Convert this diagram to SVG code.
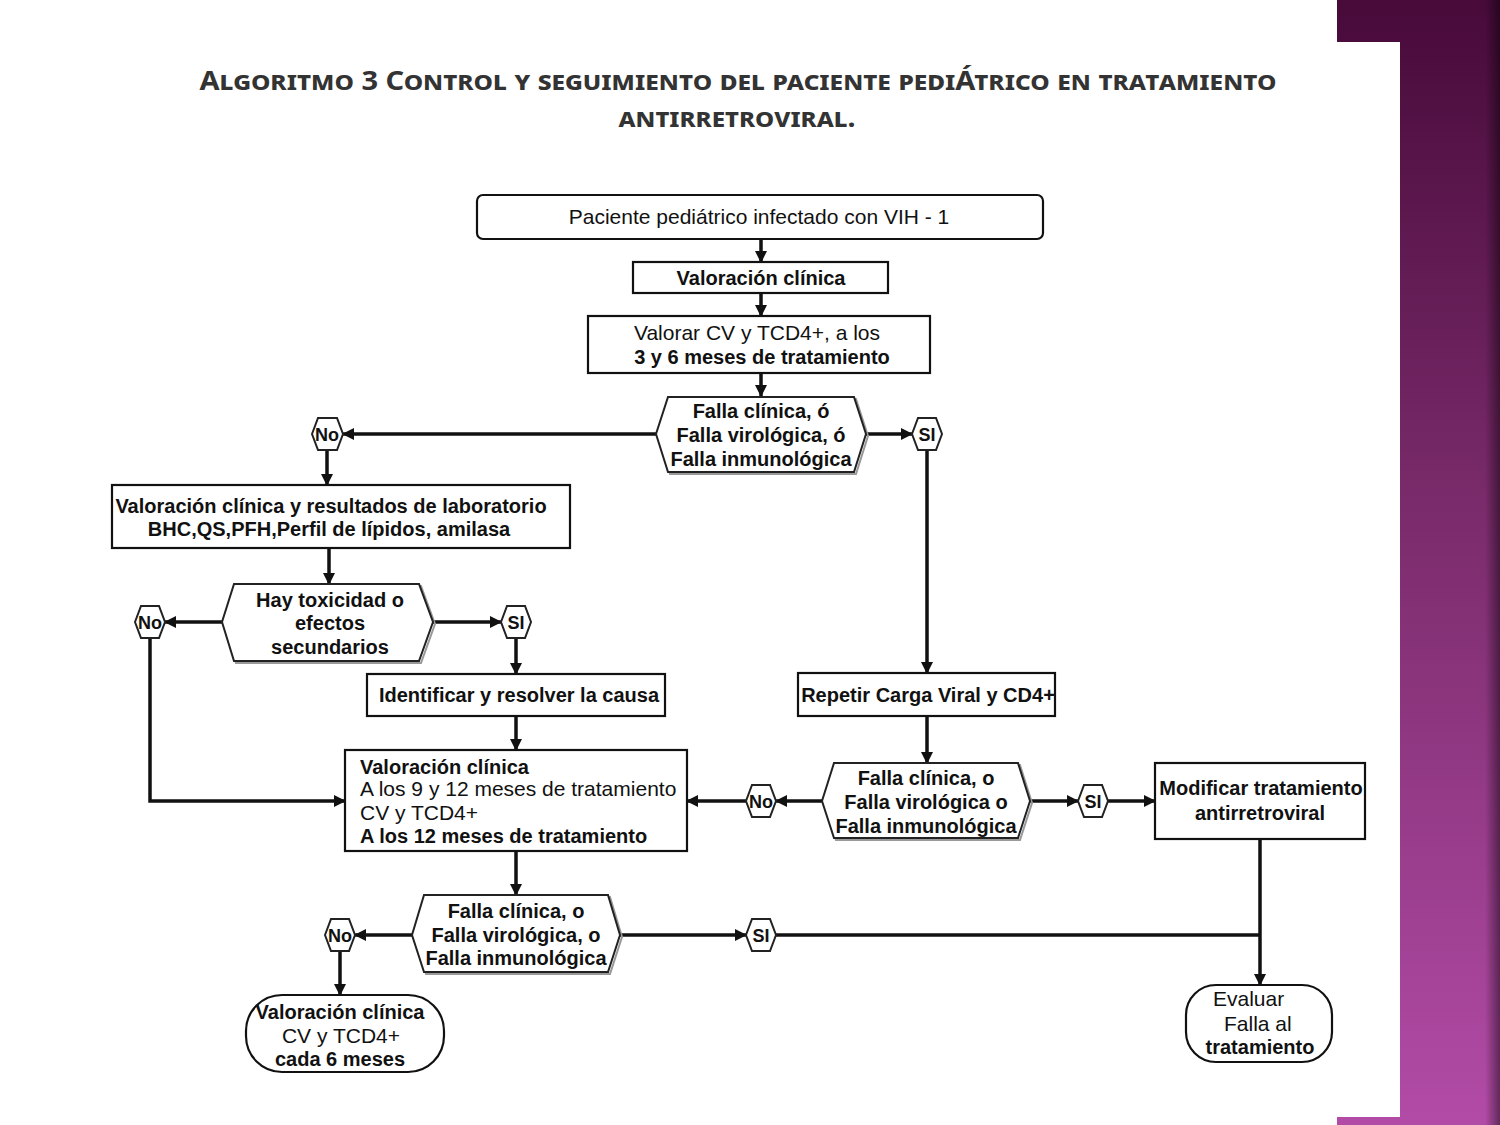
<svg xmlns="http://www.w3.org/2000/svg" width="1500" height="1125" viewBox="0 0 1500 1125">
<defs>
<linearGradient id="pg" x1="0" y1="0" x2="0" y2="1">
<stop offset="0" stop-color="#470a39"/>
<stop offset="0.45" stop-color="#7a2b6b"/>
<stop offset="1" stop-color="#b24ba6"/>
</linearGradient>
<linearGradient id="edge" x1="0" y1="0" x2="1" y2="0">
<stop offset="0" stop-color="#000" stop-opacity="0"/>
<stop offset="1" stop-color="#000" stop-opacity="0.45"/>
</linearGradient>
<marker id="ah" markerWidth="12" markerHeight="12" refX="11" refY="6" orient="auto" markerUnits="userSpaceOnUse">
<path d="M0,0 L12,6 L0,12 z" fill="#111"/>
</marker>
</defs>
<style>
.box{fill:#fff;stroke:#111;stroke-width:2.2}
.hex{fill:#fff;stroke:#222;stroke-width:2}
.sh{fill:none;stroke:#999;stroke-width:2}
.t{font-family:"Liberation Sans",Arial,sans-serif;font-size:21px;fill:#111}
.b{font-weight:bold;font-size:20px}
.m{text-anchor:middle}
.c{fill:none;stroke:#111;stroke-width:3.5}
.title{font-family:"Noto Sans","Liberation Sans",sans-serif;font-weight:bold;font-variant:small-caps;fill:#333;font-size:26px;text-anchor:middle}
</style>
<rect width="1500" height="1125" fill="#fff"/>
<g id="panel">
<rect x="1337" y="0" width="163" height="1125" fill="url(#pg)"/>
<rect x="1485" y="0" width="15" height="1125" fill="url(#edge)"/>
<rect x="1337" y="42" width="63" height="1075" fill="#fff"/>
</g>
<g id="title">
<text class="title" x="738" y="90" textLength="1077" lengthAdjust="spacingAndGlyphs">Algoritmo 3 Control y seguimiento del paciente pediÁtrico en tratamiento</text>
<text class="title" x="737" y="127" textLength="237" lengthAdjust="spacingAndGlyphs">antirretroviral.</text>
</g>
<g id="connectors">
<line class="c" x1="761" y1="239" x2="761" y2="262" marker-end="url(#ah)"/>
<line class="c" x1="761" y1="293" x2="761" y2="316" marker-end="url(#ah)"/>
<line class="c" x1="761" y1="373" x2="761" y2="396" marker-end="url(#ah)"/>
<line class="c" x1="656" y1="434" x2="343" y2="434" marker-end="url(#ah)"/>
<line class="c" x1="866" y1="434" x2="912" y2="434" marker-end="url(#ah)"/>
<line class="c" x1="327" y1="450" x2="327" y2="485" marker-end="url(#ah)"/>
<line class="c" x1="927" y1="450" x2="927" y2="673" marker-end="url(#ah)"/>
<line class="c" x1="329" y1="548" x2="329" y2="584" marker-end="url(#ah)"/>
<line class="c" x1="222" y1="622" x2="165" y2="622" marker-end="url(#ah)"/>
<line class="c" x1="433" y1="622" x2="501" y2="622" marker-end="url(#ah)"/>
<line class="c" x1="516" y1="638" x2="516" y2="674" marker-end="url(#ah)"/>
<polyline class="c" points="150,638 150,801 345,801" marker-end="url(#ah)"/>
<line class="c" x1="516" y1="716" x2="516" y2="750" marker-end="url(#ah)"/>
<line class="c" x1="927" y1="716" x2="927" y2="763" marker-end="url(#ah)"/>
<line class="c" x1="822" y1="801" x2="776" y2="801" marker-end="url(#ah)"/>
<line class="c" x1="746" y1="801" x2="687" y2="801" marker-end="url(#ah)"/>
<line class="c" x1="1030" y1="801" x2="1078" y2="801" marker-end="url(#ah)"/>
<line class="c" x1="1108" y1="801" x2="1155" y2="801" marker-end="url(#ah)"/>
<line class="c" x1="516" y1="851" x2="516" y2="895" marker-end="url(#ah)"/>
<line class="c" x1="412" y1="935" x2="355" y2="935" marker-end="url(#ah)"/>
<line class="c" x1="340" y1="951" x2="340" y2="995" marker-end="url(#ah)"/>
<line class="c" x1="620" y1="935" x2="746" y2="935" marker-end="url(#ah)"/>
<line class="c" x1="776" y1="935" x2="1260" y2="935"/>
<line class="c" x1="1260" y1="839" x2="1260" y2="985" marker-end="url(#ah)"/>
</g>
<g id="n1">
<rect class="box" x="477" y="195" width="566" height="44" rx="6"/>
<text class="t m" x="759" y="224">Paciente pediátrico infectado con VIH - 1</text>
</g>
<g id="n2">
<rect class="box" x="633" y="262" width="255" height="31"/>
<text class="t b m" x="761" y="285">Valoración clínica</text>
</g>
<g id="n3">
<rect class="box" x="588" y="316" width="342" height="57"/>
<text class="t m" x="757" y="340">Valorar CV y TCD4+, a los</text>
<text class="t b m" x="762" y="364">3 y 6 meses de tratamiento</text>
</g>
<g id="d1">
<polygon class="sh" points="658,436 670,399 856,399 868,436 856,474 670,474"/>
<polygon class="hex" points="656,434 668,397 854,397 866,434 854,472 668,472"/>
<text class="t b m" x="761" y="418">Falla clínica, ó</text>
<text class="t b m" x="761" y="442">Falla virológica, ó</text>
<text class="t b m" x="761" y="466">Falla inmunológica</text>
</g>
<g id="no1">
<polygon class="hex" points="312,434 318,418 337,418 343,434 337,450 318,450"/>
<text class="t b m" x="327" y="441" style="font-size:18px">No</text>
</g>
<g id="si1">
<polygon class="hex" points="912,434 918,418 936,418 942,434 936,450 918,450"/>
<text class="t b m" x="927" y="441" style="font-size:18px">SI</text>
</g>
<g id="n4">
<rect class="box" x="112" y="485" width="458" height="63"/>
<text class="t b m" x="331" y="513">Valoración clínica y resultados de laboratorio</text>
<text class="t b m" x="329" y="536">BHC,QS,PFH,Perfil de lípidos, amilasa</text>
</g>
<g id="d2">
<polygon class="sh" points="224,624 236,586 421,586 435,624 421,663 236,663"/>
<polygon class="hex" points="222,622 234,584 419,584 433,622 419,661 234,661"/>
<text class="t b m" x="330" y="607">Hay toxicidad o</text>
<text class="t b m" x="330" y="630">efectos</text>
<text class="t b m" x="330" y="654">secundarios</text>
</g>
<g id="no2">
<polygon class="hex" points="135,622 141,606 159,606 165,622 159,638 141,638"/>
<text class="t b m" x="150" y="629" style="font-size:18px">No</text>
</g>
<g id="si2">
<polygon class="hex" points="501,622 507,606 525,606 531,622 525,638 507,638"/>
<text class="t b m" x="516" y="629" style="font-size:18px">SI</text>
</g>
<g id="n5">
<rect class="box" x="367" y="674" width="298" height="42"/>
<text class="t b m" x="519" y="702">Identificar y resolver la causa</text>
</g>
<g id="n6">
<rect class="box" x="798" y="673" width="257" height="43"/>
<text class="t b m" x="928" y="702">Repetir Carga Viral y CD4+</text>
</g>
<g id="n7">
<rect class="box" x="345" y="750" width="342" height="101"/>
<text class="t b" x="360" y="774">Valoración clínica</text>
<text class="t" x="360" y="796">A los 9 y 12 meses de tratamiento</text>
<text class="t" x="360" y="820">CV y TCD4+</text>
<text class="t b" x="360" y="843">A los 12 meses de tratamiento</text>
</g>
<g id="d3">
<polygon class="sh" points="824,803 836,765 1020,765 1032,803 1020,840 836,840"/>
<polygon class="hex" points="822,801 834,763 1018,763 1030,801 1018,838 834,838"/>
<text class="t b m" x="926" y="785">Falla clínica, o</text>
<text class="t b m" x="926" y="809">Falla virológica o</text>
<text class="t b m" x="926" y="833">Falla inmunológica</text>
</g>
<g id="no3">
<polygon class="hex" points="746,801 752,785 770,785 776,801 770,817 752,817"/>
<text class="t b m" x="761" y="808" style="font-size:18px">No</text>
</g>
<g id="si3">
<polygon class="hex" points="1078,801 1084,785 1102,785 1108,801 1102,817 1084,817"/>
<text class="t b m" x="1093" y="808" style="font-size:18px">SI</text>
</g>
<g id="n8">
<rect class="box" x="1155" y="763" width="210" height="76"/>
<text class="t b m" x="1261" y="795">Modificar tratamiento</text>
<text class="t b m" x="1260" y="820">antirretroviral</text>
</g>
<g id="d4">
<polygon class="sh" points="414,937 426,897 610,897 622,937 610,974 426,974"/>
<polygon class="hex" points="412,935 424,895 608,895 620,935 608,972 424,972"/>
<text class="t b m" x="516" y="918">Falla clínica, o</text>
<text class="t b m" x="516" y="942">Falla virológica, o</text>
<text class="t b m" x="516" y="965">Falla inmunológica</text>
</g>
<g id="no4">
<polygon class="hex" points="325,935 331,919 349,919 355,935 349,951 331,951"/>
<text class="t b m" x="340" y="942" style="font-size:18px">No</text>
</g>
<g id="si4">
<polygon class="hex" points="746,935 752,919 770,919 776,935 770,951 752,951"/>
<text class="t b m" x="761" y="942" style="font-size:18px">SI</text>
</g>
<g id="n9">
<rect class="box" x="246" y="995" width="198" height="77" rx="36"/>
<text class="t b m" x="340" y="1019">Valoración clínica</text>
<text class="t m" x="341" y="1043">CV y TCD4+</text>
<text class="t b m" x="340" y="1066">cada 6 meses</text>
</g>
<g id="n10">
<rect class="box" x="1186" y="985" width="146" height="77" rx="30"/>
<text class="t" x="1213" y="1006">Evaluar</text>
<text class="t" x="1224" y="1031">Falla al</text>
<text class="t b m" x="1260" y="1054">tratamiento</text>
</g>
</svg>
